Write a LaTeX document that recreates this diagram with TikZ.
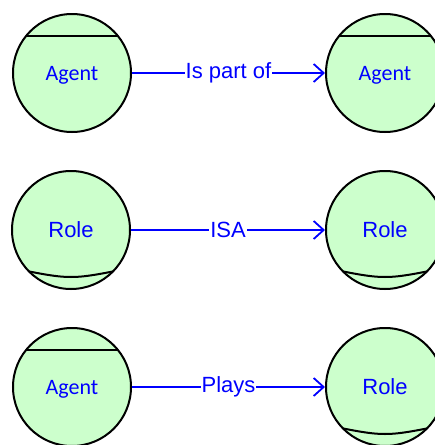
\documentclass[tikz,border=0pt]{standalone}
\usepackage{fontspec}
\usepackage{tikz}
\usetikzlibrary{arrows.meta,positioning}
\newfontfamily\agentfont{Carlito}
\newfontfamily\arialfont{Liberation Sans}
\definecolor{entgreen}{RGB}{204,255,204}
\definecolor{relblue}{RGB}{0,0,255}

\begin{document}
\begin{tikzpicture}[
  x=1pt,y=-1pt,
  ent/.style={circle,draw=black,line width=2pt,fill=entgreen,
              minimum size=118pt,inner sep=0pt,text=relblue},
  agent/.style={ent,font=\agentfont\fontsize{22}{26}\selectfont,text depth=0pt,
              path picture={\draw[line width=2pt]
                ([yshift=-22pt]path picture bounding box.north west) --
                ([yshift=-22pt]path picture bounding box.north east);}},
  role/.style={ent,font=\arialfont\fontsize{22}{26}\selectfont,
              path picture={\draw[line width=2pt]
                ([yshift=21pt]path picture bounding box.south west) .. controls
                ([yshift=9pt]path picture bounding box.south) ..
                ([yshift=21pt]path picture bounding box.south east);}},
  arr/.style={-{Straight Barb[length=10pt,width=18pt,line width=1.8pt]},
              line width=1.8pt,relblue},
  lbl/.style={fill=white,inner sep=1pt,text=relblue,
              font=\arialfont\fontsize{22}{26}\selectfont}
]
\useasboundingbox (0,0) rectangle (435,445);

% Row 1
\node[agent] (agentA) at (72,73) {Agent};
\node[agent] (agentB) at (385,73) {Agent};

% Row 2
\node[role] (roleA) at (71,230) {Role};
\node[role] (roleB) at (385,230) {Role};

% Row 3
\node[agent] (agentC) at (72,387) {Agent};
\node[role] (roleC) at (385,387) {Role};

% Arrows
\draw[arr] (agentA) -- node[lbl] {Is part of} (agentB);
\draw[arr] (roleA) -- node[lbl] {ISA} (roleB);
\draw[arr] (agentC) -- node[lbl] {Plays} (roleC);

\end{tikzpicture}
\end{document}
